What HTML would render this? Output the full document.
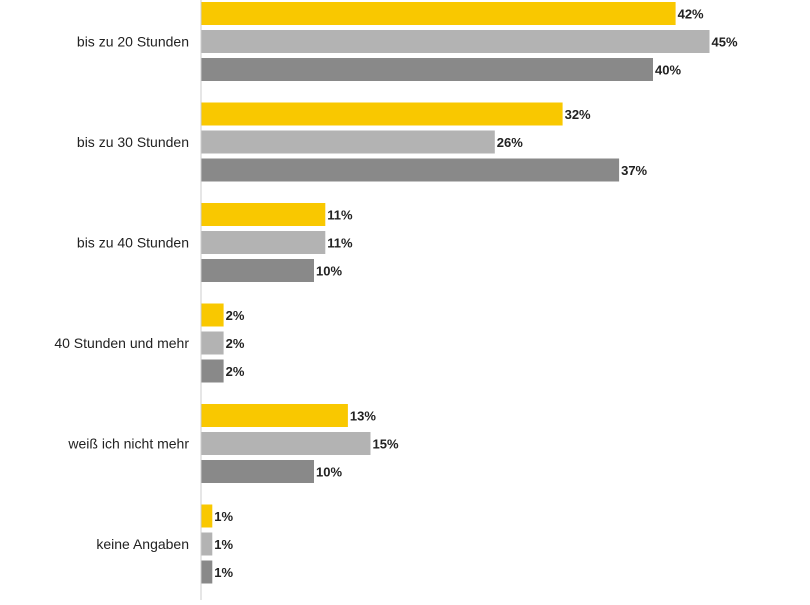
<!DOCTYPE html>
<html><head><meta charset="utf-8"><style>
html,body{margin:0;padding:0;background:#fff;}
body{width:810px;height:600px;overflow:hidden;font-family:"Liberation Sans",sans-serif;}
</style></head><body>
<svg id="chart" width="810" height="600" xmlns="http://www.w3.org/2000/svg"></svg>
<script>
const categories = ["bis zu 20 Stunden","bis zu 30 Stunden","bis zu 40 Stunden","40 Stunden und mehr","weiß ich nicht mehr","keine Angaben"];
const series1 = [42,32,11,2,13,1];
const series2 = [45,26,11,2,15,1];
const series3 = [40,37,10,2,10,1];
const seriesList = [series1,series2,series3];
const colors = ["#f9c800","#b3b3b3","#898989"];
const NS="http://www.w3.org/2000/svg";
const svg=document.getElementById('chart');
const x0=201, pxPer=11.3;
function xScale(v){return x0+v*pxPer;}
function yGroup(i){return 2+i*100.5;}
const barH=23, barStep=28;
function mk(tag,attrs){const e=document.createElementNS(NS,tag);for(const k in attrs)e.setAttribute(k,attrs[k]);svg.appendChild(e);return e;}
categories.forEach((c,i)=>{
  const t=mk('text',{x:189,y:yGroup(i)+barStep+barH/2+5,'text-anchor':'end','font-size':'14','fill':'#222'});
  t.textContent=c;
  
  
  seriesList.forEach((s,j)=>{
    const y=yGroup(i)+j*barStep;
    const r=mk('rect',{x:x0,y:y,width:xScale(s[i])-x0,height:barH,fill:colors[j]});
    
    
    const l=mk('text',{x:xScale(s[i])+2,y:y+barH/2+5,'font-size':'13','font-weight':'bold','fill':'#222'});
    l.textContent=s[i]+'%';
    
    
  });
});
const ax=mk('line',{x1:x0,y1:0,x2:x0,y2:600,stroke:'#ccc','stroke-width':1});


</script>
</body></html>
